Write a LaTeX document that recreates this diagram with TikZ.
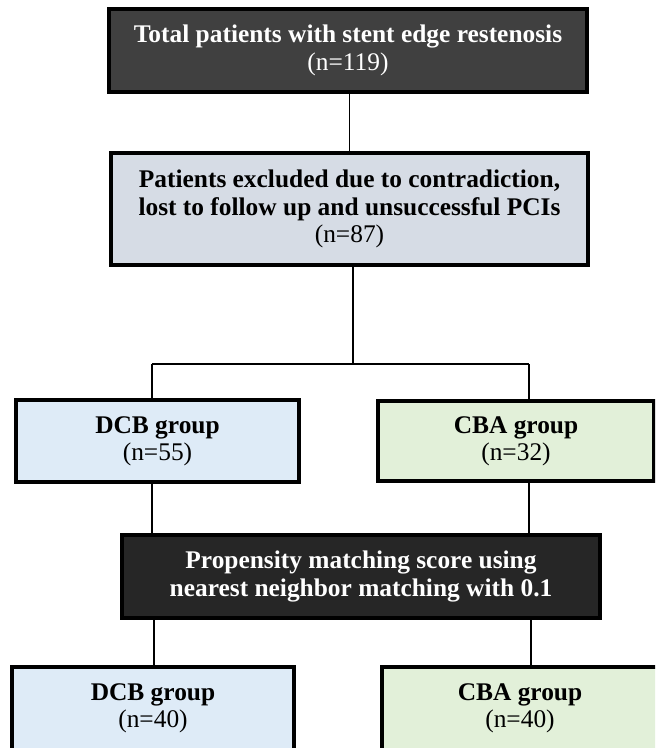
\documentclass[tikz,border=0pt]{standalone}
\usepackage{fontspec}
\setmainfont{Liberation Serif}
\usepackage{tikz}
\usetikzlibrary{positioning}

\definecolor{topgrey}{HTML}{404040}
\definecolor{exclgrey}{HTML}{D6DCE5}
\definecolor{dcbblue}{HTML}{DEEBF7}
\definecolor{cbagreen}{HTML}{E2F0D9}
\definecolor{psmblack}{HTML}{262626}

\begin{document}
\begin{tikzpicture}[
    x=0.5pt, y=-0.5pt,
    box/.style={draw, line width=1.6pt, align=center, inner sep=0pt, font=\fontsize{12.7}{13.7}\selectfont},
    darkbox/.style={box, text=white},
    link/.style={draw, line width=0.6pt}
]
\clip (0,0) rectangle (655,748);

% boxes
\node[darkbox, fill=topgrey, minimum width=239pt, minimum height=41.5pt] (total) at (348,50.5)
    {\textbf{Total patients with stent edge restenosis}\\(n=119)};
\node[box, fill=exclgrey, minimum width=238.5pt, minimum height=56pt] (excl) at (349.5,209)
    {\textbf{Patients excluded due to contradiction,}\\\textbf{lost to follow up and unsuccessful PCIs}\\(n=87)};
\node[box, fill=dcbblue, minimum width=141.5pt, minimum height=41pt] (dcb) at (157.5,441)
    {\textbf{DCB group}\\(n=55)};
\node[box, fill=cbagreen, minimum width=138pt, minimum height=40pt] (cba) at (516,441)
    {\textbf{CBA group}\\(n=32)};
\node[darkbox, fill=psmblack, minimum width=239pt, minimum height=41.5pt] (psm) at (361,576.5)
    {\textbf{Propensity matching score using}\\\textbf{nearest neighbor matching with 0.1}};
\node[box, fill=dcbblue, minimum width=141pt, minimum height=41.5pt] (dcbm) at (153,708.5)
    {\textbf{DCB group}\\(n=40)};
\node[box, fill=cbagreen, minimum width=138pt, minimum height=41.5pt] (cbam) at (520,708.5)
    {\textbf{CBA group}\\(n=40)};

% split points
\coordinate (jm) at (353,364);
\coordinate (jl) at (152,364);
\coordinate (jr) at (529,364);
\coordinate (ml) at (154,618);
\coordinate (mr) at (531,618);

% connectors
\draw[link] (total.south -| excl.north) -- (excl.north);
\draw[link] (excl.south -| jm) -- (jm);
\draw[link] (jl) -- (jr);
\draw[link] (jl) -- (jl |- dcb.north);
\draw[link] (jr) -- (jr |- cba.north);
\draw[link] (dcb.south -| jl) -- (jl |- psm.north);
\draw[link] (cba.south -| jr) -- (jr |- psm.north);
\draw[link] (psm.south -| ml) -- (ml |- dcbm.north);
\draw[link] (psm.south -| mr) -- (mr |- cbam.north);
\end{tikzpicture}
\end{document}
